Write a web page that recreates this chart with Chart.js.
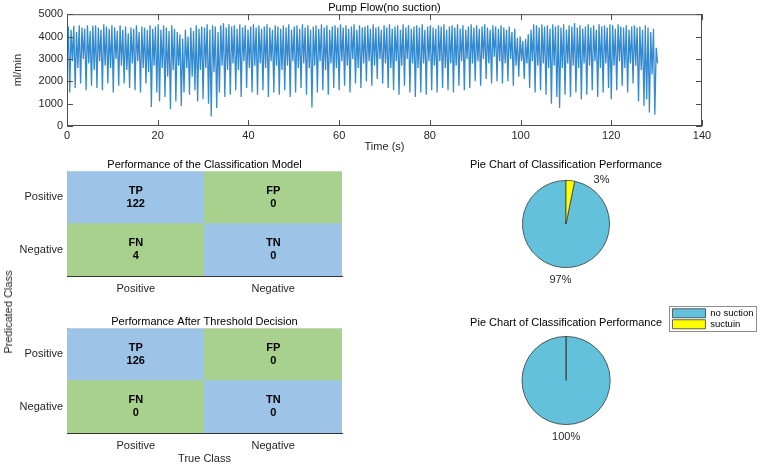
<!DOCTYPE html>
<html>
<head>
<meta charset="utf-8">
<script src="https://cdn.jsdelivr.net/npm/chart.js@4.4.1/dist/chart.umd.min.js"></script>
<style>
  html, body { margin: 0; padding: 0; background: #fff; }
  body { width: 760px; height: 466px; position: relative; overflow: hidden; font-family: 'Liberation Sans', Arial, sans-serif; }
  .painel { position: absolute; }
  #rotulo-pred { position: absolute; left: 8px; top: 312px; font-size: 11px; color: #262626; transform: translate(-50%, -50%) rotate(-90deg); white-space: nowrap; }
</style>
</head>
<body>
<div class="painel" style="left:0;top:0"><canvas id="flow" width="760" height="160"></canvas></div>
<div class="painel" style="left:0;top:150px"><canvas id="matrix-model" width="440" height="150"></canvas></div>
<div class="painel" style="left:0;top:300px"><canvas id="matrix-threshold" width="440" height="166"></canvas></div>
<div class="painel" style="left:440px;top:150px"><canvas id="pie-model" width="320" height="150"></canvas></div>
<div class="painel" style="left:440px;top:300px"><canvas id="pie-threshold" width="320" height="166"></canvas></div>
<div id="rotulo-pred">Predicated Class</div>

<script>
// pump flow, one trough and one peak every 0.6 s (ml/min)
const STEP_S = 0.3
const troughFlow = [
  2700, 1500, 2900, 1700, 2600, 1900, 3000, 1600, 2800, 1800,
  2500, 1700, 2900, 1600, 2700, 1900, 2600, 1500, 3000, 1800,
  2700, 1900, 2500, 1700, 2800, 1600, 2900, 1500, 2600, 1900,
  2400, 850, 2700, 1500, 1100, 2600, 1300, 2200, 750, 2500,
  1100, 2700, 900, 1500, 2600, 1400, 2200, 1600, 1100, 2500,
  1200, 2600, 1000, 430, 2400, 800, 1500, 2700, 1300, 2500,
  1400, 2800, 1600, 2500, 1300, 2900, 1700, 2600, 1500, 2700,
  1400, 2800, 1600, 2600, 1300, 2900, 1500, 2700, 1400, 2500,
  1600, 2700, 1300, 2900, 1500, 2600, 1700, 2800, 1400, 2600,
  830, 2700, 1500, 2900, 1600, 2500, 1400, 2800, 1700, 2600,
  1600, 2900, 1800, 2700, 1500, 3000, 1900, 2600, 1700, 2800,
  2000, 2900, 1800, 2700, 2100, 3000, 1900, 2800, 1700, 2600,
  1600, 2900, 1400, 2700, 1800, 3000, 1500, 2800, 1300, 2600,
  1500, 2800, 1400, 2900, 1600, 2700, 1500, 2900, 1700, 2600,
  1600, 2800, 1500, 2700, 1800, 2900, 1600, 3000, 1700, 2800,
  2000, 2900, 1800, 3000, 2100, 2800, 1900, 3100, 2000, 2900,
  1900, 2800, 2000, 3000, 1800, 2700, 2200, 2900, 2100, 2800,
  1700, 2900, 1500, 2700, 1600, 2800, 1400, 2600, 1000, 2700,
  1300, 800, 2600, 1400, 2800, 1300, 2700, 1500, 2600, 1200,
  2800, 1400, 2700, 1600, 2900, 1300, 2600, 1500, 2800, 1700,
  1200, 2700, 1600, 2900, 1800, 2600, 1500, 2800, 1900, 2700,
  1100, 2500, 900, 1200, 600, 2300, 500, 2800
]
const peakFlow = [
  4450, 4300, 4480, 4200, 4500, 4400, 4350, 4500, 4250, 4480,
  4500, 4400, 4300, 4550, 4450, 4350, 4500, 4400, 4250, 4500,
  4300, 4450, 4150, 4400, 4350, 4500, 4200, 4450, 4400, 4300,
  4500, 4350, 4450, 4550, 4300, 4500, 4400, 4250, 4500, 4350,
  4200, 4100, 3900, 4300, 4000, 4400, 4250, 4500, 4350, 4450,
  4400, 4550, 4300, 4500, 4450, 4200, 4500, 4600, 4400, 4550,
  4450, 4500, 4350, 4550, 4400, 4500, 4300, 4450, 4550, 4400,
  4500, 4350, 4450, 4550, 4400, 4300, 4500, 4450, 4350, 4500,
  4400, 4550, 4300, 4450, 4500, 4350, 4550, 4400, 4500, 4300,
  4450, 4500, 4350, 4550, 4400, 4500, 4300, 4450, 4500, 4400,
  4550, 4400, 4500, 4350, 4450, 4550, 4300, 4500, 4400, 4450,
  4500, 4350, 4550, 4400, 4450, 4300, 4500, 4400, 4550, 4350,
  4450, 4500, 4300, 4550, 4400, 4500, 4350, 4450, 4500, 4400,
  4550, 4300, 4450, 4500, 4400, 4350, 4500, 4450, 4550, 4300,
  4450, 4500, 4400, 4550, 4350, 4500, 4300, 4450, 4550, 4400,
  4500, 4350, 4450, 4550, 4400, 4300, 4500, 4450, 4350, 4500,
  4400, 4300, 4450, 4200, 4350, 3950, 4000, 3800, 3900, 4100,
  4300, 4550, 4500, 4400, 4550, 4450, 4500, 4350, 4550, 4450,
  4500, 4400, 4550, 4300, 4500, 4450, 4600, 4400, 4500, 4350,
  4450, 4550, 4400, 4500, 4300, 4550, 4450, 4500, 4400, 4550,
  4500, 4350, 4550, 4450, 4400, 4500, 4300, 4450, 4500, 4400,
  4450, 4300, 4500, 4400, 4200, 4350, 3500
]
const timeTicks = [0, 20, 40, 60, 80, 100, 120, 140]
const flowTicks = [0, 1000, 2000, 3000, 4000, 5000]

// confusion matrices (rows = predicted, cols = true)
const trueClass = ['Positive', 'Negative']
const predClass = ['Positive', 'Negative']
const cellNames = [['TP', 'FP'], ['FN', 'TN']]
const modelCounts = [[122, 0], [4, 0]]
const thresholdCounts = [[126, 0], [0, 0]]

// pies
const pieNames = ['no suction', 'suctuin']
const pieModel = [122, 4]
const pieThreshold = [126, 0]

const CELL_BLUE = '#9dc3e6'
const CELL_GREEN = '#a9d18e'
const PIE_BLUE = '#63c1dc'
const PIE_YELLOW = '#ffff00'

Chart.defaults.font.family = "'Liberation Sans', Arial, sans-serif"
Chart.defaults.font.size = 11
Chart.defaults.color = '#262626'

const flowPoints = []
troughFlow.forEach((v, k) => {
  flowPoints.push({ x: +(2 * k * STEP_S).toFixed(1), y: v })
  if (k < peakFlow.length) flowPoints.push({ x: +((2 * k + 1) * STEP_S).toFixed(1), y: peakFlow[k] })
})

// matlab style box with ticks pointing in
const boxTicks = {
  id: 'boxTicks',
  afterDraw(chart) {
    const { ctx, chartArea: a, scales: { x, y } } = chart
    ctx.save()
    ctx.strokeStyle = '#4d4d4d'
    ctx.lineWidth = 1
    ctx.strokeRect(a.left + 0.5, a.top + 0.5, a.width - 1, a.height - 1)
    ctx.beginPath()
    x.ticks.forEach(t => {
      const px = Math.round(x.getPixelForValue(t.value)) + 0.5
      ctx.moveTo(px, a.bottom); ctx.lineTo(px, a.bottom - 6)
      ctx.moveTo(px, a.top); ctx.lineTo(px, a.top + 6)
    })
    y.ticks.forEach(t => {
      const py = Math.round(y.getPixelForValue(t.value)) + 0.5
      ctx.moveTo(a.left, py); ctx.lineTo(a.left + 6, py)
      ctx.moveTo(a.right, py); ctx.lineTo(a.right - 6, py)
    })
    ctx.stroke()
    ctx.restore()
  }
}

const cellText = {
  id: 'cellText',
  afterDatasetsDraw(chart, args, opts) {
    const ctx = chart.ctx
    ctx.save()
    ctx.fillStyle = '#000'
    ctx.font = "bold 11px 'Liberation Sans', Arial, sans-serif"
    ctx.textAlign = 'center'
    ctx.textBaseline = 'middle'
    chart.data.datasets.forEach((ds, d) => {
      chart.getDatasetMeta(d).data.forEach((bar, c) => {
        const cy = (bar.y + bar.base) / 2
        ctx.fillText(cellNames[ds.row][c], bar.x, cy - 6.5)
        ctx.fillText(String(opts.counts[ds.row][c]), bar.x, cy + 6.5)
      })
    })
    ctx.restore()
  }
}

const pieText = {
  id: 'pieText',
  afterDatasetsDraw(chart, args, opts) {
    const ctx = chart.ctx
    const vals = chart.data.datasets[0].data
    const total = vals.reduce((a, b) => a + b, 0)
    ctx.save()
    ctx.fillStyle = '#262626'
    ctx.font = "11px 'Liberation Sans', Arial, sans-serif"
    ctx.textAlign = 'center'
    ctx.textBaseline = 'middle'
    chart.getDatasetMeta(0).data.forEach((arc, i) => {
      if (!vals[i]) return
      const mid = (arc.startAngle + arc.endAngle) / 2
      const r = arc.outerRadius * 1.28
      const nudge = (opts.nudge || [])[i] || [0, 0]
      ctx.fillText(Math.round(vals[i] / total * 100) + '%', arc.x + Math.cos(mid) * r + nudge[0], arc.y + Math.sin(mid) * r + nudge[1])
    })
    ctx.restore()
  }
}

const legendBox = {
  id: 'legendBox',
  afterDraw(chart) {
    const lg = chart.legend
    if (!lg || !lg.options.display || !lg.legendHitBoxes.length) return
    const hb = lg.legendHitBoxes
    const l = Math.min(...hb.map(h => h.left)) - 3
    const t = Math.min(...hb.map(h => h.top)) - 2.5
    const r = Math.max(...hb.map(h => h.left + h.width)) + 3
    const b = Math.max(...hb.map(h => h.top + h.height)) + 2
    const ctx = chart.ctx
    ctx.save()
    ctx.strokeStyle = '#8c8c8c'
    ctx.lineWidth = 1
    ctx.strokeRect(Math.round(l) + 0.5, Math.round(t) + 0.5, Math.round(r - l), Math.round(b - t))
    ctx.restore()
  }
}

new Chart(document.getElementById('flow'), {
  type: 'line',
  data: {
    datasets: [{
      data: flowPoints,
      borderColor: 'rgba(16, 118, 200, 0.85)',
      borderWidth: 1.3,
      pointRadius: 0,
      tension: 0,
    }]
  },
  options: {
    responsive: false,
    animation: false,
    layout: { padding: { right: 58 } },
    plugins: {
      legend: { display: false },
      tooltip: { enabled: false },
      title: {
        display: true,
        text: 'Pump Flow(no suction)',
        fullSize: false,
        color: '#000',
        font: { size: 11, weight: 'normal' },
        padding: { top: 1, bottom: 0 },
      },
    },
    scales: {
      x: {
        type: 'linear',
        min: timeTicks[0],
        max: timeTicks[timeTicks.length - 1],
        afterBuildTicks: a => { a.ticks = timeTicks.map(v => ({ value: v })) },
        afterFit: a => { a.height = 34 },
        grid: { display: false, drawTicks: false },
        border: { display: false },
        ticks: { padding: 3, maxRotation: 0, callback: v => String(v) },
        title: { display: true, text: 'Time (s)', padding: { top: 0, bottom: 6 } },
      },
      y: {
        min: flowTicks[0],
        max: flowTicks[flowTicks.length - 1],
        afterBuildTicks: a => { a.ticks = flowTicks.map(v => ({ value: v })) },
        afterFit: a => { a.width = 67 },
        grid: { display: false, drawTicks: false },
        border: { display: false },
        ticks: { padding: 4, callback: v => String(v) },
        title: { display: true, text: 'ml/min', padding: { top: 11, bottom: 0 } },
      },
    },
  },
  plugins: [boxTicks],
})

function matrixChart(id, titulo, counts, topo, alturaX, xTitulo) {
  const datasets = [1, 0].map(r => ({
    label: predClass[r],
    row: r,
    data: trueClass.map(() => 1),
    backgroundColor: trueClass.map((_, c) => r === c ? CELL_BLUE : CELL_GREEN),
    borderWidth: 0,
    barPercentage: 1,
    categoryPercentage: 1,
  }))
  return new Chart(document.getElementById(id), {
    type: 'bar',
    data: { labels: trueClass, datasets },
    options: {
      responsive: false,
      animation: false,
      layout: { padding: { right: 98 } },
      plugins: {
        legend: { display: false },
        tooltip: { enabled: false },
        title: {
          display: true,
          text: titulo,
          fullSize: false,
          color: '#000',
          font: { size: 11, weight: 'normal' },
          padding: { top: topo, bottom: 0 },
        },
        cellText: { counts },
      },
      scales: {
        x: {
          stacked: true,
          z: 1,
          afterFit: a => { a.height = alturaX },
          grid: { display: false, drawTicks: false },
          border: { display: true, color: '#333', width: 1 },
          ticks: { padding: 6 },
          title: { display: !!xTitulo, text: xTitulo || '', padding: { top: 0, bottom: 0 } },
        },
        y: {
          stacked: true,
          min: 0,
          max: 2,
          z: 1,
          afterBuildTicks: a => { a.ticks = [{ value: 0.5 }, { value: 1.5 }] },
          afterFit: a => { a.width = 67 },
          grid: { display: false, drawTicks: false },
          border: { display: true, color: '#333', width: 1 },
          ticks: { padding: 4, callback: v => predClass[v > 1 ? 0 : 1] },
        },
      },
    },
    plugins: [cellText],
  })
}

matrixChart('matrix-model', 'Performance of the Classification Model', modelCounts, 8, 24)
matrixChart('matrix-threshold', 'Performance After Threshold Decision', thresholdCounts, 15, 33, 'True Class')

function pieChart(id, valores, opts) {
  const total = valores.reduce((a, b) => a + b, 0)
  return new Chart(document.getElementById(id), {
    type: 'pie',
    data: {
      labels: pieNames,
      datasets: [{
        data: valores,
        backgroundColor: [PIE_BLUE, PIE_YELLOW],
        borderColor: '#3a3a3a',
        borderWidth: 0.8,
      }]
    },
    options: {
      responsive: false,
      animation: false,
      // matlab draws counter-clockwise, so the small slice sits right of 12 o'clock
      rotation: 360 * valores[1] / total,
      layout: { padding: opts.padding },
      plugins: {
        legend: {
          display: !!opts.legend,
          position: 'right',
          align: 'start',
          labels: { boxWidth: 33, boxHeight: 9, padding: 1.5, color: '#000', font: { size: 9.5 } },
        },
        tooltip: { enabled: false },
        title: {
          display: true,
          text: 'Pie Chart of Classification Performance',
          fullSize: false,
          color: '#000',
          font: { size: 11, weight: 'normal' },
          padding: opts.titlePad,
        },
        pieText: { nudge: opts.nudge },
      },
    },
    plugins: [pieText, legendBox],
  })
}

pieChart('pie-model', pieModel, {
  padding: { left: 0, right: 68, top: 0, bottom: 32 },
  titlePad: { top: 8.4, bottom: 8.4 },
  nudge: [[0, 0], [30, 11]],
})
pieChart('pie-threshold', pieThreshold, {
  legend: true,
  padding: { left: 21.25, right: -3.5, top: 7, bottom: 41 },
  titlePad: { top: 9, bottom: 6.8 },
})
</script>
</body>
</html>
